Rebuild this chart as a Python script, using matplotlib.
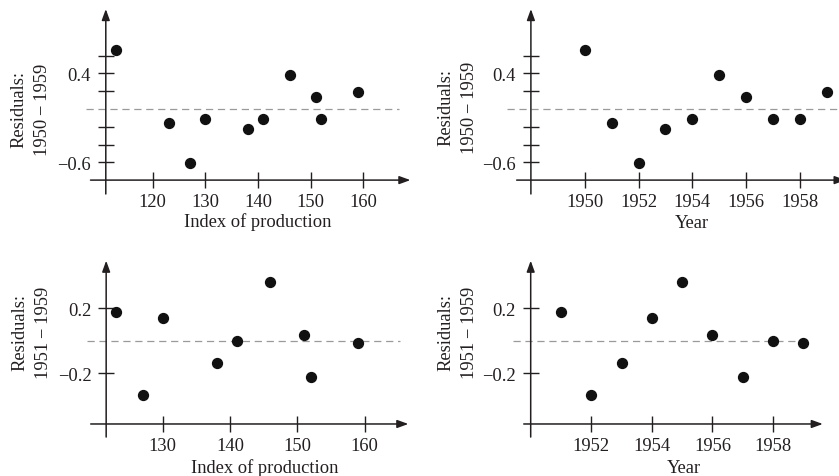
import matplotlib.pyplot as plt

plt.rcParams['font.family'] = ['Liberation Serif', 'DejaVu Serif']
plt.rcParams['lines.scale_dashes'] = False

# data
years_all = [1950, 1951, 1952, 1953, 1954, 1955, 1956, 1957, 1958, 1959]
production_all = [113, 123, 127, 138, 130, 146, 151, 152, 141, 159]
resid_all = [0.665, -0.162, -0.608, -0.226, -0.112, 0.378, 0.135, -0.116, -0.112, 0.188]

years_late = years_all[1:]
production_late = production_all[1:]
resid_late = [0.175, -0.335, -0.138, 0.137, 0.358, 0.037, -0.222, 0.0, -0.012]

ink = '#231f20'
fs = 13.3
W, H = 839, 477
fig = plt.figure(figsize=(W / 100, H / 100), dpi=100)


def add_panel(box, xref, yref, x, y, xticks, yticks, ylabs, yaxis_x, xaxis_y,
              xspan, yspan, dspan, xlabel, xlab_px, ylabel, ylab_px):
    # box in pixels (left, top, right, bottom); xref/yref = (pixel, value, px per unit)
    l, t, r, b = box
    ax = fig.add_axes([l / W, 1 - b / H, (r - l) / W, (b - t) / H])
    px, vx, sx = xref
    py, vy, sy = yref
    ax.set_xlim(vx + (l - px) / sx, vx + (r - px) / sx)
    ax.set_ylim(vy - (b - py) / sy, vy - (t - py) / sy)
    ax.patch.set_visible(False)
    for s in ax.spines.values():
        s.set_visible(False)
    ax.spines['left'].set_position(('data', yaxis_x))
    ax.spines['bottom'].set_position(('data', xaxis_y))

    ax.set_xticks(xticks)
    ax.set_xticklabels([str(v) for v in xticks])
    ax.set_yticks(yticks)
    ax.set_yticklabels(ylabs)
    ax.tick_params(direction='inout', length=11.5, width=1.0, color=ink,
                   labelcolor=ink, labelsize=fs)
    ax.tick_params(axis='x', pad=3.8)
    ax.tick_params(axis='y', pad=5.0)

    arrow = dict(arrowstyle='-|>,head_length=0.55,head_width=0.2', lw=1.1,
                 color=ink, shrinkA=0, shrinkB=0, mutation_scale=12)
    ax.annotate('', xy=(xspan[1], xaxis_y), xytext=(xspan[0], xaxis_y),
                arrowprops=arrow, annotation_clip=False)
    ax.annotate('', xy=(yaxis_x, yspan[1]), xytext=(yaxis_x, yspan[0]),
                arrowprops=arrow, annotation_clip=False)

    ax.plot(dspan, [0, 0], color='#9a9a9a', lw=0.9, dashes=(5.2, 3.4),
            clip_on=False, zorder=2)
    ax.plot(x, y, 'o', color='#111111', markersize=7.1, zorder=3, clip_on=False)

    fig.text(xlab_px[0] / W, 1 - xlab_px[1] / H, xlabel, ha='center',
             va='baseline', fontsize=fs, color=ink)
    fig.text(ylab_px[0] / W, 1 - ylab_px[1] / H, ylabel, ha='center',
             va='center', rotation=90, fontsize=fs, color=ink,
             linespacing=1.5, multialignment='center')
    return ax


lab_all = 'Residuals:\n1950\u2009\u2212\u20091959'
lab_late = 'Residuals:\n1951\u2009\u2212\u20091959'
yt_top = [-0.6, -0.4, -0.2, 0.2, 0.4, 0.6]
yl_top = ['\u22120.6', '', '', '', '0.4', '']

add_panel((80, 5, 415, 205), (152.7, 120, 5.27), (74.3, 0.4, 89.0),
          production_all, resid_all, [120, 130, 140, 150, 160], yt_top, yl_top,
          111.1, -0.8, (108.2, 168.9), (-0.956, 1.122), (107.3, 166.8),
          'Index of production', (258, 227.5), lab_all, (31, 110))

add_panel((490, 5, 839, 205), (584.7, 1950, 26.9), (74.3, 0.4, 89.0),
          years_all, resid_all, [1950, 1952, 1954, 1956, 1958], yt_top, yl_top,
          1948.0, -0.8, (1947.47, 1959.7), (-0.956, 1.122), (1947.1, 1960.0),
          'Year', (691.7, 228.3), lab_all, (457.5, 108))

add_panel((80, 245, 415, 470), (162.7, 130, 6.73), (341.7, 0.0, 163.3),
          production_late, resid_late, [130, 140, 150, 160], [-0.2, 0.2],
          ['\u22120.2', '0.2'],
          121.6, -0.51, (119.3, 166.5), (-0.59, 0.49), (118.8, 165.2),
          'Index of production', (265, 473.5), lab_late, (31.5, 333))

add_panel((490, 245, 839, 470), (591.3, 1952, 30.3), (341.7, 0.0, 163.3),
          years_late, resid_late, [1952, 1954, 1956, 1958], [-0.2, 0.2],
          ['\u22120.2', '0.2'],
          1950.0, -0.51, (1949.77, 1959.64), (-0.59, 0.49), (1949.4, 1959.2),
          'Year', (684, 473.5), lab_late, (457.5, 333))

fig.savefig('out.png', dpi=100)
